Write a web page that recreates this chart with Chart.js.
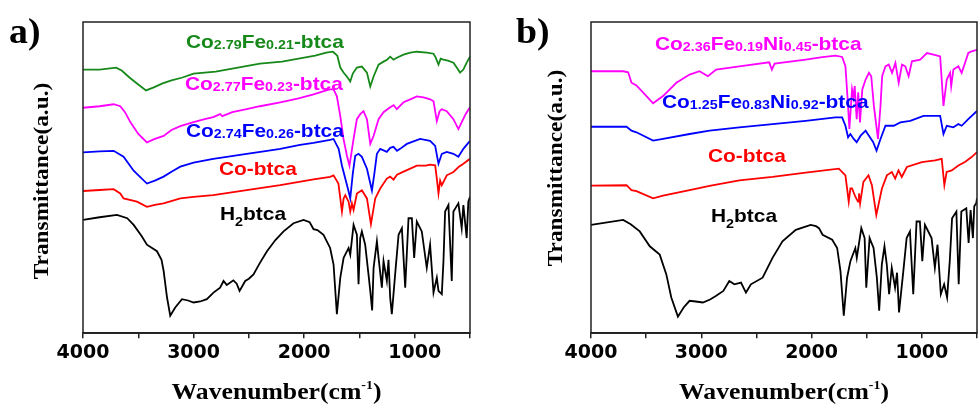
<!DOCTYPE html>
<html>
<head>
<meta charset="utf-8">
<script src="https://cdn.jsdelivr.net/npm/chart.js@4.4.1/dist/chart.umd.min.js"></script>
<style>
  html, body { margin: 0; padding: 0; background: #fff; }
  #wrap { position: relative; width: 980px; height: 407px; }
  canvas { position: absolute; top: 0; }
</style>
</head>
<body>
<div id="wrap">
  <canvas id="ftir-a" width="490" height="407" style="left:0"></canvas>
  <canvas id="ftir-b" width="490" height="407" style="left:490px"></canvas>
</div>
<script>
// wavenumber (cm-1) and transmittance (a.u., stacked offsets)
const majorTicks = [4000, 3000, 2000, 1000];

// ---- panel a ----
const aGreenWn = [4000,3850,3700,3650,3580,3500,3430,3360,3280,3200,3100,3000,2800,2600,2400,2200,2000,1900,1800,1740,1700,1673,1644,1614,1583,1560,1523,1478,1432,1402,1372,1327,1282,1250,1222,1192,1162,1101,1040,981,891,830,810,785,765,740,700,650,620,590,560,530,500];
const aGreenT  = [266,266,268,265,258,251,245,248,252,255,258,262,264,268,272,274,278,280,283,284,280,268,263,259,254,262,268,269,263,249,259,271,274,276,279,276,278,281,283,284,283,282,278,271,277,276,275,273,268,263,266,273,279];

const aPinkWn = [4000,3850,3723,3663,3620,3572,3500,3422,3350,3271,3200,3120,3000,2900,2822,2760,2740,2650,2520,2400,2216,2050,1915,1800,1765,1734,1704,1673,1644,1613,1590,1553,1523,1493,1463,1432,1402,1372,1327,1282,1222,1190,1162,1101,1040,981,921,860,830,800,775,755,710,650,605,570,540,500];
const aPinkT  = [227.5,229,231,229,223,213,201,192.5,196,199,205,209,213,216,218,221,219,223,226,229,233,237,241,245,246,246,239,219,196,179,169,196,216,221,224,216,191,199,216,223,228,230,226,233,236,239,238,236,234,214,224,226,224,216,206,214,221,228];

const aBlueWn = [4000,3850,3723,3633,3542,3422,3350,3271,3200,3120,3000,2822,2640,2520,2335,2216,2037,1915,1765,1734,1688,1658,1628,1600,1583,1560,1538,1508,1478,1432,1387,1365,1342,1312,1252,1222,1192,1160,1132,1071,951,861,815,785,755,710,650,605,560,500];
const aBlueT  = [182.5,183.5,184,178,164,151,154,158,163,168,172,176,179,181,184,186,190,192,195,196,186,169,156,144,136,161,179,181,178,166,144,161,181,186,183,187,188,184,186,191,196,194,189,171,181,183,181,178,186,194];

const aRedWn = [4000,3850,3723,3663,3633,3512,3422,3350,3271,3120,3000,2822,2520,2216,1915,1765,1734,1690,1673,1658,1643,1628,1598,1583,1568,1553,1523,1478,1432,1396,1357,1312,1252,1222,1192,1160,1101,1040,981,900,861,815,800,785,770,755,710,650,600,560,500];
const aRedT  = [143.5,144.5,145.3,141,136,132.7,127.5,129.5,131,136,137.5,139.3,144.3,149.3,155.3,157.7,159.3,151,136,122.7,136,139.3,132.7,122.7,131,124.3,141,144.3,136,110,136,146,156,158,155,160,163,166,169,169,170,169.3,156,141,154,149.3,159.3,162.7,168,171,176];

const aBlackWn = [4000,3850,3693,3600,3542,3470,3422,3331,3290,3271,3240,3211,3166,3105,3050,3000,2940,2880,2820,2760,2729,2700,2640,2610,2584,2533,2500,2458,2400,2336,2260,2186,2096,2005,1950,1915,1880,1825,1765,1734,1704,1673,1643,1598,1583,1553,1523,1508,1493,1478,1448,1418,1402,1385,1372,1342,1327,1297,1282,1252,1237,1222,1207,1177,1146,1116,1086,1056,1026,1005,981,936,891,861,830,800,785,755,740,725,695,665,650,605,575,560,530,515,500];
const aBlackT  = [114.3,117,119.3,116,109.3,98,89.3,82.7,74,63,36,17.7,26,34.3,33,31,32,34.3,41,46,52.7,48.7,53.3,50,42.7,52.7,55,59.3,71,82.7,94,102.7,111,114.3,112,105,104,99.3,86,69.3,19.3,56,76,86,79.3,109.3,99.3,49.3,96,102.7,89.3,59.3,42.7,23,66,92.7,76,46,72.7,52.7,74,36,19.3,59.3,99.3,106,46,116,116,76,112.7,102.7,66,89.3,41,56,42.7,39.3,72.7,122.7,129.3,52.7,122.7,131,106,129.3,96,132.7,137.7];

// ---- panel b ----
const bPinkWn = [4000,3708,3663,3633,3588,3497,3437,3347,3226,3106,3016,2940,2865,2655,2384,2360,2335,2053,1903,1783,1723,1693,1669,1657,1633,1620,1609,1591,1577,1561,1540,1510,1480,1459,1435,1398,1375,1360,1330,1300,1270,1240,1210,1180,1150,1120,1090,1015,954,894,834,804,774,744,734,714,669,639,609,579,549,500];
const bPinkT  = [264.3,264.3,263.3,252.7,250,239.3,232,239.3,252.7,261,264.3,259.3,266,269.3,273.3,266,272,276,278.5,280,278.7,269.3,229.3,206,246,238,249.3,216,243,212.7,246,256,262.7,259.3,229.3,196,229.3,259.3,269.3,271,262.7,272.7,252.7,271,269.3,259.3,274.3,276,282.7,281,279.3,229.3,256,262.7,249.3,266,269.3,262.7,272.7,282.7,284.3,286];

const bBlueWn = [4000,3678,3633,3588,3437,3347,3106,2925,2655,2354,2053,1783,1723,1693,1669,1648,1618,1591,1555,1510,1480,1441,1411,1375,1330,1255,1195,1105,985,834,804,774,714,669,639,579,500];
const bBlueT  = [208.3,208.3,204.3,202.7,194.3,196,201,204.3,207.7,211,214.3,217.7,217.7,209.3,197.7,201,196,192.7,199.3,204.3,199.3,192.7,184.3,196,209.3,209.3,212.7,214.3,219.3,219.3,201,209.3,207.7,211,209.3,216,224.3];

const bRedWn = [4000,3678,3633,3588,3437,3347,3106,2925,2655,2354,2053,1753,1693,1663,1648,1633,1603,1579,1570,1560,1530,1484,1453,1413,1362,1317,1272,1242,1212,1182,1136,1000,880,820,796,775,729,669,609,549,500];
const bRedT  = [149,149.3,144.3,143.3,136,138.7,144.3,148.7,154.3,157.7,162,166,159.3,132.7,146,146,137.7,132.7,141,131,152.7,159.3,149.3,119.3,146,159.3,162.7,156,164.3,157.7,167.7,172.7,174.3,176,149.3,162.7,164.3,169.3,172.7,177.7,182.7];

const bBlackWn = [4000,3708,3640,3558,3467,3377,3317,3272,3212,3160,3106,3050,2986,2920,2865,2800,2746,2700,2640,2595,2550,2444,2354,2264,2143,2008,1960,1933,1900,1813,1768,1738,1708,1678,1648,1603,1590,1549,1519,1504,1474,1438,1408,1387,1363,1339,1318,1297,1273,1243,1225,1207,1168,1138,1108,1078,1048,1018,996,972,912,882,858,828,798,771,747,726,687,666,642,597,576,558,537,525,507,500];
const bBlackT  = [109.3,114.3,110,102.7,87.7,79.3,59.3,36,16.7,26,32.7,32,31,34,37.7,42.7,52.7,49.3,51,41,49.3,56,76,92.7,104.3,109.3,108,106,99.3,94.3,86,62.7,17.7,56,72.7,86,76,106,96,46,96,86,56,22.7,69.3,87.7,69.3,39.3,66,46,61,21,62.7,96,102.7,39.3,112.7,112.7,72.7,109.3,96,66,89.3,39.3,49.3,36,72.7,116,122.7,49.3,122.7,126,91,124.3,96,128,131,136];

const COLORS = { green: '#17891a', pink: '#ff00ff', blue: '#0000ff', red: '#ff0000', black: '#000000' };

function series(wn, t, color) {
  return {
    data: wn.map((w, i) => ({ x: w, y: t[i] })),
    borderColor: color,
    borderWidth: 1.8,
    pointRadius: 0,
    tension: 0,
    fill: false
  };
}

// draws a run of text pieces [text, size, dy] side by side
function drawRich(ctx, x, y, parts, color, sx) {
  ctx.save();
  ctx.translate(x, y);
  ctx.scale(sx, 1);
  ctx.fillStyle = color;
  ctx.textBaseline = 'alphabetic';
  ctx.textAlign = 'left';
  let cx = 0;
  parts.forEach(([txt, size, dy, fam]) => {
    ctx.font = 'bold ' + size + 'px ' + (fam || '"Liberation Sans", Arial, sans-serif');
    ctx.fillText(txt, cx, dy || 0);
    cx += ctx.measureText(txt).width;
  });
  ctx.restore();
  return cx * sx;
}

const SERIF = '"Liberation Serif", "Times New Roman", serif';

const decor = {
  id: 'decor',
  afterDraw(chart, args, opts) {
    const { ctx, chartArea: a } = chart;
    ctx.save();
    ctx.strokeStyle = '#222';
    ctx.lineWidth = 1.5;
    ctx.strokeRect(a.left, a.top, a.right - a.left, a.bottom - a.top);

    // panel letter
    drawRich(ctx, opts.letter.x, opts.letter.y, [[opts.letter.text, 36, 0, SERIF]], '#000', 1.05);

    // y title (rotated)
    ctx.save();
    ctx.translate(opts.yTitle.x, opts.yTitle.y);
    ctx.rotate(-Math.PI / 2);
    ctx.font = 'bold 22px ' + SERIF;
    const yw = ctx.measureText('Transmittance(a.u.)').width * 1.06;
    drawRich(ctx, -yw / 2, 7, [['Transmittance(a.u.)', 22, 0, SERIF]], '#000', 1.06);
    ctx.restore();

    // x title with superscript
    const xParts = [['Wavenumber(cm', 24, 0, SERIF], ['-1', 13, -10, SERIF], [')', 24, 0, SERIF]];
    let w = 0;
    xParts.forEach(([t, s, dy, f]) => { ctx.font = 'bold ' + s + 'px ' + f; w += ctx.measureText(t).width; });
    w *= 1.07;
    drawRich(ctx, (a.left + a.right) / 2 - w / 2, 399, xParts, '#000', 1.07);

    // series labels
    opts.labels.forEach(l => drawRich(ctx, l.x, l.y, l.parts, l.color, 1.1));
    ctx.restore();
  }
};

function sub(name) {
  // "Co|2.79|Fe|0.21|-btca" -> alternating big / small pieces
  return name.split('|').map((p, i) => i % 2 === 0 ? [p, 19, 0] : [p, 13, 1]);
}

const labelsA = [
  { x: 186, y: 48, color: COLORS.green, parts: sub('Co|2.79|Fe|0.21|-btca') },
  { x: 185, y: 90, color: COLORS.pink,  parts: sub('Co|2.77|Fe|0.23|-btca') },
  { x: 186, y: 136.5, color: COLORS.blue,  parts: sub('Co|2.74|Fe|0.26|-btca') },
  { x: 219, y: 175, color: COLORS.red,   parts: [['Co-btca', 19, 0]] },
  { x: 220, y: 220, color: COLORS.black, parts: [['H', 19, 0], ['2', 13, 6], ['btca', 19, 0]] }
];
const labelsB = [
  { x: 165, y: 50, color: COLORS.pink,  parts: sub('Co|2.36|Fe|0.19|Ni|0.45|-btca') },
  { x: 172, y: 107.5, color: COLORS.blue,  parts: sub('Co|1.25|Fe|0.83|Ni|0.92|-btca') },
  { x: 218, y: 161.5, color: COLORS.red,   parts: [['Co-btca', 19, 0]] },
  { x: 221, y: 222, color: COLORS.black, parts: [['H', 19, 0], ['2', 13, 6], ['btca', 19, 0]] }
];

function makeChart(id, datasets, pad, decorOpts) {
  const ctx = document.getElementById(id).getContext('2d');
  return new Chart(ctx, {
    type: 'line',
    data: { datasets: datasets },
    options: {
      responsive: false,
      animation: false,
      devicePixelRatio: 1,
      parsing: false,
      layout: { padding: pad },
      plugins: { legend: { display: false }, tooltip: { enabled: false }, decor: decorOpts },
      scales: {
        x: {
          type: 'linear',
          reverse: true,
          min: 500,
          max: 4000,
          ticks: {
            stepSize: 500,
            autoSkip: false,
            maxRotation: 0,
            padding: 3,
            color: '#000',
            font: { family: '"DejaVu Sans", sans-serif', weight: 'bold', size: 19 },
            callback: v => majorTicks.includes(v) ? String(v) : ''
          },
          grid: { display: true, drawOnChartArea: false, drawTicks: true, tickLength: 5, color: '#222', lineWidth: 1.5 },
          border: { display: true, color: '#222', width: 1.5 }
        },
        y: { display: false, min: 0, max: 314 }
      }
    },
    plugins: [decor]
  });
}

makeChart('ftir-a', [
  series(aBlackWn, aBlackT, COLORS.black),
  series(aRedWn, aRedT, COLORS.red),
  series(aBlueWn, aBlueT, COLORS.blue),
  series(aPinkWn, aPinkT, COLORS.pink),
  series(aGreenWn, aGreenT, COLORS.green)
], { left: 83, right: 20, top: 22, bottom: 40 }, {
  letter: { text: 'a)', x: 9, y: 43 },
  yTitle: { x: 41, y: 181 },
  labels: labelsA
});

makeChart('ftir-b', [
  series(bBlackWn, bBlackT, COLORS.black),
  series(bRedWn, bRedT, COLORS.red),
  series(bBlueWn, bBlueT, COLORS.blue),
  series(bPinkWn, bPinkT, COLORS.pink)
], { left: 101, right: 2, top: 22, bottom: 40 }, {
  letter: { text: 'b)', x: 26, y: 43 },
  yTitle: { x: 65, y: 168 },
  labels: labelsB
});
</script>
</body>
</html>
